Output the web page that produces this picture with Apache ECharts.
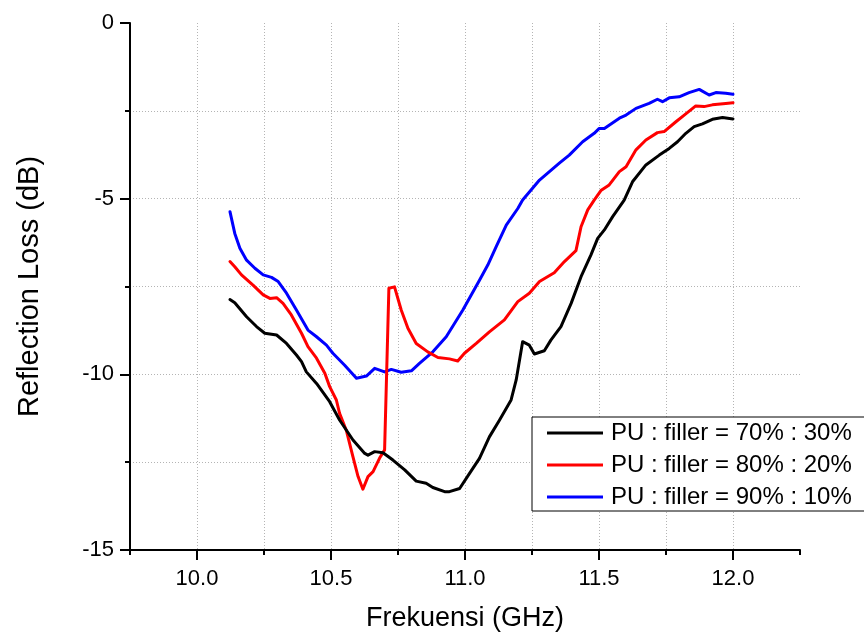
<!DOCTYPE html>
<html>
<head>
<meta charset="utf-8">
<title>Reflection Loss</title>
<script src="https://cdn.jsdelivr.net/npm/echarts@6/dist/echarts.min.js"></script>
<style>
  html, body { margin: 0; padding: 0; background: #ffffff; }
  #chart-reflection { width: 864px; height: 634px; }
</style>
</head>
<body>
<div id="chart-reflection"></div>
<script>
// ============================================================
// 数据
// ============================================================

var SERIES_NAMES = ['PU : filler = 70% : 30%', 'PU : filler = 80% : 20%', 'PU : filler = 90% : 10%'];
var SERIES_COLORS = ['#000000', '#ff0000', '#0000ff'];

// 70% : 30%
var FREQ_70 = [10.123, 10.141, 10.185, 10.222, 10.253, 10.297, 10.334, 10.371, 10.390, 10.408,
  10.446, 10.495, 10.532, 10.582, 10.626, 10.638, 10.663, 10.694, 10.731, 10.775,
  10.818, 10.855, 10.880, 10.924, 10.942, 10.980, 11.017, 11.054, 11.091, 11.129,
  11.172, 11.191, 11.215, 11.240, 11.259, 11.296, 11.321, 11.358, 11.396, 11.433,
  11.470, 11.495, 11.520, 11.551, 11.594, 11.625, 11.675, 11.725, 11.762, 11.793,
  11.824, 11.855, 11.886, 11.923, 11.961, 12.000];
var RL_70 = [-7.87, -7.96, -8.36, -8.64, -8.83, -8.88, -9.12, -9.45, -9.64, -9.93,
  -10.26, -10.78, -11.30, -11.87, -12.25, -12.30, -12.20, -12.23, -12.44, -12.72,
  -13.04, -13.10, -13.22, -13.34, -13.34, -13.25, -12.82, -12.39, -11.78, -11.30,
  -10.73, -10.16, -9.07, -9.17, -9.42, -9.33, -9.02, -8.64, -7.98, -7.22,
  -6.60, -6.13, -5.89, -5.51, -5.04, -4.52, -4.04, -3.76, -3.57, -3.38,
  -3.14, -2.95, -2.87, -2.74, -2.69, -2.73];

// 80% : 20%
var FREQ_80 = [10.123, 10.141, 10.166, 10.209, 10.247, 10.272, 10.297, 10.321, 10.352, 10.390,
  10.414, 10.446, 10.477, 10.495, 10.520, 10.532, 10.557, 10.582, 10.601, 10.619,
  10.638, 10.657, 10.681, 10.700, 10.716, 10.737, 10.762, 10.787, 10.818, 10.861,
  10.899, 10.942, 10.973, 10.998, 11.042, 11.091, 11.147, 11.197, 11.240, 11.278,
  11.333, 11.371, 11.414, 11.433, 11.458, 11.482, 11.507, 11.538, 11.576, 11.601,
  11.638, 11.675, 11.718, 11.743, 11.787, 11.818, 11.861, 11.892, 11.923, 11.973,
  12.000];
var RL_80 = [-6.79, -6.94, -7.17, -7.46, -7.74, -7.84, -7.82, -7.98, -8.31, -8.83,
  -9.21, -9.54, -9.97, -10.35, -10.73, -11.11, -11.59, -12.35, -12.91, -13.27,
  -12.91, -12.77, -12.39, -12.15, -7.55, -7.51, -8.17, -8.69, -9.12, -9.36,
  -9.52, -9.56, -9.62, -9.40, -9.12, -8.79, -8.45, -7.93, -7.69, -7.36,
  -7.11, -6.79, -6.48, -5.80, -5.32, -5.04, -4.77, -4.61, -4.23, -4.09,
  -3.61, -3.33, -3.12, -3.09, -2.81, -2.62, -2.36, -2.38, -2.33, -2.29,
  -2.27];

// 90% : 10%
var FREQ_90 = [10.123, 10.141, 10.160, 10.185, 10.216, 10.247, 10.278, 10.303, 10.334, 10.371,
  10.414, 10.446, 10.483, 10.507, 10.551, 10.595, 10.632, 10.663, 10.700, 10.725,
  10.762, 10.800, 10.830, 10.880, 10.930, 10.992, 11.054, 11.085, 11.116, 11.154,
  11.197, 11.215, 11.278, 11.352, 11.389, 11.439, 11.482, 11.501, 11.520, 11.576,
  11.601, 11.638, 11.687, 11.718, 11.737, 11.762, 11.799, 11.836, 11.874, 11.911,
  11.936, 11.973, 12.000];
var RL_90 = [-5.37, -5.99, -6.41, -6.75, -6.98, -7.17, -7.24, -7.36, -7.69, -8.17,
  -8.74, -8.93, -9.17, -9.40, -9.74, -10.11, -10.05, -9.83, -9.93, -9.86,
  -9.94, -9.90, -9.69, -9.36, -8.93, -8.17, -7.32, -6.89, -6.37, -5.75,
  -5.28, -5.04, -4.47, -3.99, -3.76, -3.38, -3.14, -3.00, -3.00, -2.71,
  -2.62, -2.43, -2.29, -2.17, -2.24, -2.13, -2.10, -1.98, -1.89, -2.05,
  -1.98, -2.00, -2.03];

var X_MIN = 9.75, X_MAX = 12.25, X_MINOR = 0.25;
var X_LABEL_MIN = 10.0, X_LABEL_MAX = 12.0, X_MAJOR = 0.5;
var Y_MIN = -15, Y_MAX = 0, Y_MINOR = 2.5, Y_MAJOR = 5;

// ============================================================
// 样式常量
// ============================================================

var FONT = "'Liberation Sans', Arial, sans-serif";
var GRID_LEFT = 130, GRID_TOP = 23, GRID_WIDTH = 670, GRID_HEIGHT = 527;
var PX_PER_GHZ = GRID_WIDTH / (X_MAX - X_MIN);
var DOT_COLOR = '#b4b4b4';

// 网格线颜色：首尾两条（与坐标轴重合或位于边界）设为透明
var _lineColors = function(count) {
  var colors = [];
  for (var i = 0; i < count; i++) {
    colors.push(i === 0 || i === count - 1 ? 'rgba(0,0,0,0)' : DOT_COLOR);
  }
  return colors;
};

var _toPairs = function(xs, ys) {
  return xs.map(function(x, i) { return [x, ys[i]]; });
};

// ============================================================
// 图表渲染
// ============================================================

function renderChart() {
  var chart = echarts.init(document.getElementById('chart-reflection'), null, { renderer: 'canvas' });
  var freqs = [FREQ_70, FREQ_80, FREQ_90];
  var values = [RL_70, RL_80, RL_90];
  var xLines = Math.round((X_MAX - X_MIN) / X_MINOR) + 1;
  var yLines = Math.round((Y_MAX - Y_MIN) / Y_MINOR) + 1;

  chart.setOption({
    animation: false,
    backgroundColor: '#ffffff',
    textStyle: { fontFamily: FONT },
    grid: [
      {
        left: GRID_LEFT, top: GRID_TOP, width: GRID_WIDTH, height: GRID_HEIGHT,
        containLabel: false, outerBoundsMode: 'none',
      },
      // 主刻度轴（10.0 ~ 12.0）单独放一个 grid
      {
        left: GRID_LEFT + (X_LABEL_MIN - X_MIN) * PX_PER_GHZ,
        top: GRID_TOP,
        width: (X_LABEL_MAX - X_LABEL_MIN) * PX_PER_GHZ,
        height: GRID_HEIGHT,
        containLabel: false, outerBoundsMode: 'none',
      },
    ],
    xAxis: [
      {
        type: 'value', gridIndex: 0, position: 'bottom', min: X_MIN, max: X_MAX, interval: X_MINOR,
        name: 'Frekuensi (GHz)', nameLocation: 'middle', nameGap: 55,
        nameTextStyle: { fontSize: 27, color: '#000', fontFamily: FONT },
        axisLine: { show: true, onZero: false, lineStyle: { color: '#000', width: 2 } },
        axisTick: { show: true, length: 5, lineStyle: { color: '#000', width: 2 } },
        axisLabel: { show: false },
        splitLine: {
          show: true, showMinLine: true, showMaxLine: true,
          lineStyle: { color: _lineColors(xLines), width: 1, type: [1, 2] },
        },
      },
      {
        type: 'value', gridIndex: 1, position: 'bottom', min: X_LABEL_MIN, max: X_LABEL_MAX, interval: X_MAJOR,
        axisLine: { show: false, onZero: false },
        axisTick: { show: true, length: 10, lineStyle: { color: '#000', width: 2 } },
        axisLabel: {
          show: true, margin: 18, fontSize: 22, color: '#000', fontFamily: FONT,
          formatter: function(v) { return v.toFixed(1); },
        },
        splitLine: { show: false },
      },
    ],
    yAxis: [
      {
        type: 'value', gridIndex: 0, position: 'left', min: Y_MIN, max: Y_MAX, interval: Y_MINOR,
        axisLine: { show: true, onZero: false, lineStyle: { color: '#000', width: 2 } },
        axisTick: { show: true, length: 5, lineStyle: { color: '#000', width: 2 } },
        axisLabel: { show: false },
        splitLine: {
          show: true, showMinLine: true, showMaxLine: true,
          lineStyle: { color: _lineColors(yLines), width: 1, type: [1, 2] },
        },
      },
      {
        type: 'value', gridIndex: 0, position: 'left', min: Y_MIN, max: Y_MAX, interval: Y_MAJOR,
        name: 'Reflection Loss (dB)', nameLocation: 'middle', nameGap: 86,
        nameTextStyle: { fontSize: 29, color: '#000', fontFamily: FONT },
        axisLine: { show: false, onZero: false },
        axisTick: { show: true, length: 10, lineStyle: { color: '#000', width: 2 } },
        axisLabel: { show: true, margin: 16, fontSize: 22, color: '#000', fontFamily: FONT },
        splitLine: { show: false },
      },
      { type: 'value', gridIndex: 1, position: 'left', min: Y_MIN, max: Y_MAX, show: false },
    ],
    legend: {
      orient: 'vertical',
      left: 532, top: 417,
      backgroundColor: '#ffffff',
      borderColor: '#000', borderWidth: 1, borderRadius: 0,
      padding: [4, 40, 2, 15],
      itemWidth: 56, itemHeight: 3, itemGap: 8,
      icon: 'rect',
      textStyle: { fontSize: 24, color: '#000', fontFamily: FONT, padding: [0, 0, 0, 3] },
      data: SERIES_NAMES,
    },
    series: SERIES_NAMES.map(function(name, i) {
      return {
        name: name,
        type: 'line',
        xAxisIndex: 0, yAxisIndex: 0,
        data: _toPairs(freqs[i], values[i]),
        showSymbol: false,
        symbol: 'none',
        smooth: false,
        z: 10 - i,
        color: SERIES_COLORS[i],
        lineStyle: { color: SERIES_COLORS[i], width: 3, join: 'round', cap: 'round' },
        itemStyle: { color: SERIES_COLORS[i] },
      };
    }),
  });
}

renderChart();
</script>
</body>
</html>
